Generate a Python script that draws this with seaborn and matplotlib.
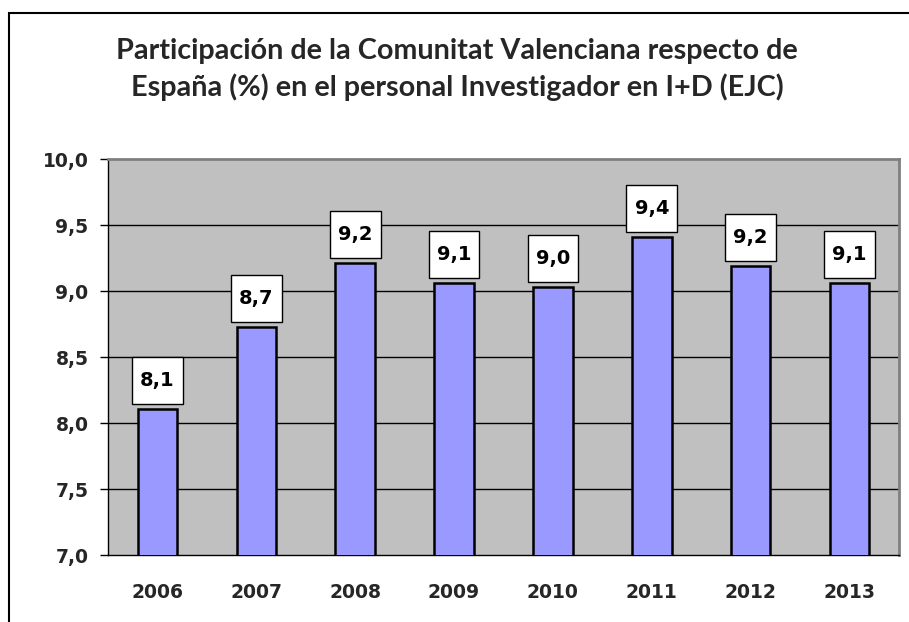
import matplotlib.pyplot as plt
import seaborn as sns
from matplotlib.patches import Rectangle
from matplotlib.path import Path

# Datos: participación de la C. Valenciana (%) en personal investigador I+D (EJC)
years = ['2006', '2007', '2008', '2009', '2010', '2011', '2012', '2013']
share = [8.11, 8.73, 9.21, 9.06, 9.03, 9.41, 9.19, 9.06]
y_ticks = [7.0, 7.5, 8.0, 8.5, 9.0, 9.5, 10.0]

sns.set_theme(style="white")
plt.rcParams['font.family'] = ['DejaVu Sans']

fig = plt.figure(figsize=(9.09, 6.22), dpi=100)
ax = fig.add_axes([0.1188, 0.1077, 0.8702, 0.6363])
ax.set_facecolor('#C0C0C0')

sns.barplot(x=years, y=share, color='#9999FF', edgecolor='black',
            linewidth=1.8, width=0.4, saturation=1, ax=ax, zorder=3)

ax.set_ylim(7, 10)
ax.set_yticks(y_ticks)
ax.set_yticklabels([f'{v:.1f}'.replace('.', ',') for v in y_ticks],
                   fontsize=13.5, fontweight='bold')
ax.set_xlim(-0.5, len(years) - 0.5)
ax.set_xticks(range(len(years)))
ax.set_xticklabels(years, fontsize=13.5, fontweight='bold')
ax.set_xticks([i - 0.5 for i in range(len(years) + 1)], minor=True)
ax.tick_params(axis='x', which='major', length=0, pad=20)
ax.tick_params(axis='x', which='minor', length=6, width=1, color='black', direction='out')
ax.tick_params(axis='y', length=6, width=1, color='black', direction='out', pad=8, left=True)

for v in y_ticks[1:-1]:
    ax.axhline(v, color='black', linewidth=1, zorder=1)

for s in ['top', 'right']:
    ax.spines[s].set_color('#808080')
    ax.spines[s].set_linewidth(2)
for s in ['left', 'bottom']:
    ax.spines[s].set_color('black')
    ax.spines[s].set_linewidth(1)

ax.set_xlabel('')
ax.set_ylabel('')


# caja rectangular con relleno distinto en horizontal y vertical
def label_box(x0, y0, width, height, mutation_size):
    px, py = 0.42 * mutation_size, 0.72 * mutation_size
    x0, y0 = x0 - px, y0 - py
    x1, y1 = x0 + width + 2 * px, y0 + height + 2 * py
    return Path([(x0, y0), (x1, y0), (x1, y1), (x0, y1), (x0, y0)], closed=True)


for i, v in enumerate(share):
    ax.annotate(f'{v:.1f}'.replace('.', ','), xy=(i, v), xytext=(0, 20.5),
                textcoords='offset points', ha='center', va='center',
                fontsize=14, fontweight='bold', color='black', zorder=5,
                bbox=dict(boxstyle=label_box, facecolor='white',
                          edgecolor='black', linewidth=1))

fig.text(0.503, 0.889, 'Participación de la Comunitat Valenciana respecto de\n'
         'España (%) en el personal Investigador en I+D (EJC)',
         ha='center', va='center', fontsize=20.7, fontweight='bold',
         family=['Lato', 'DejaVu Sans'], linespacing=1.42)

# marco exterior del gráfico
fig.patches.append(Rectangle((9 / 909, -0.1), 1.1, 1 - 13 / 622 + 0.1,
                             transform=fig.transFigure, fill=False,
                             edgecolor='black', linewidth=1.5))

plt.savefig('out.png', dpi=100)
plt.close()
